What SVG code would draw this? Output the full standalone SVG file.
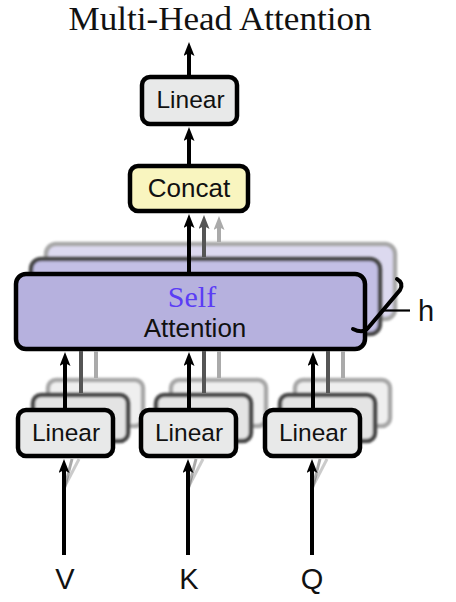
<svg xmlns="http://www.w3.org/2000/svg" width="456" height="602" viewBox="0 0 456 602">
<style>
.box{stroke-width:4.5}
.front{stroke:#000}
.mid{stroke:#4a4a4a}
.back{stroke:#a8a8a8}
.lin{fill:#e8e9e9}
.linmid{fill:#e4e4e4}
.linback{fill:#efefef}
.sa{fill:#b6b1de}
.samid{fill:#c3bfe5}
.saback{fill:#dcd9ef}
.sans{font-family:"Liberation Sans",Arial,sans-serif;text-anchor:middle;fill:#111}
.c-blk{stroke:#000;stroke-width:4;fill:none}
.c-dk{stroke:#555;stroke-width:4;fill:none}
.c-lt{stroke:#aaa;stroke-width:4;fill:none}
</style>
<defs>
<filter id="soft" x="-5%" y="-10%" width="110%" height="120%"><feGaussianBlur stdDeviation="0.9"/></filter>
<marker id="ah" viewBox="0 0 14 11" refX="3" refY="5.5" markerWidth="14" markerHeight="11" markerUnits="userSpaceOnUse" orient="auto"><path d="M0,0 L14,5.5 L0,11 L3,5.5 z" fill="#000"/></marker>
<marker id="ahd" viewBox="0 0 14 11" refX="3" refY="5.5" markerWidth="14" markerHeight="11" markerUnits="userSpaceOnUse" orient="auto"><path d="M0,0 L14,5.5 L0,11 L3,5.5 z" fill="#555"/></marker>
<marker id="ahl" viewBox="0 0 14 11" refX="3" refY="5.5" markerWidth="14" markerHeight="11" markerUnits="userSpaceOnUse" orient="auto"><path d="M0,0 L14,5.5 L0,11 L3,5.5 z" fill="#aaa"/></marker>
</defs>
<rect width="456" height="602" fill="#fff"/>
<text x="220" y="30" font-family="'Liberation Serif','Times New Roman',serif" font-size="33" text-anchor="middle" textLength="303" lengthAdjust="spacingAndGlyphs" fill="#111">Multi-Head Attention</text>

<!-- back copies -->
<g id="self-attention-back" filter="url(#soft)">
<rect class="box back saback" x="46" y="244" width="349" height="75" rx="10"/>
</g>
<g id="linear-v-back" filter="url(#soft)"><rect class="box back linback" x="48" y="380" width="95" height="46" rx="8"/></g>
<g id="linear-k-back" filter="url(#soft)"><rect class="box back linback" x="171" y="380" width="95" height="46" rx="8"/></g>
<g id="linear-q-back" filter="url(#soft)"><rect class="box back linback" x="295" y="380" width="95" height="46" rx="8"/></g>

<!-- middle copies -->
<g id="self-attention-mid" filter="url(#soft)">
<rect class="box mid samid" x="31" y="259" width="349" height="75" rx="10"/>
</g>
<g id="linear-v-mid" filter="url(#soft)"><rect class="box mid linmid" x="33" y="395" width="95" height="46" rx="8"/></g>
<g id="linear-k-mid" filter="url(#soft)"><rect class="box mid linmid" x="156" y="395" width="95" height="46" rx="8"/></g>
<g id="linear-q-mid" filter="url(#soft)"><rect class="box mid linmid" x="280" y="395" width="95" height="46" rx="8"/></g>

<!-- front nodes -->
<g id="linear-out">
<rect class="box front lin" x="142" y="77" width="95" height="47" rx="8"/>
<text class="sans" x="190.5" y="108" font-size="24.5">Linear</text>
</g>
<g id="concat">
<rect class="box front" fill="#f9f5bf" x="130" y="166" width="118" height="45" rx="8"/>
<text class="sans" x="189" y="197" font-size="26">Concat</text>
</g>
<g id="self-attention">
<rect class="box front sa" x="16" y="274" width="349" height="75" rx="10"/>
<text x="192" y="307" font-family="'Liberation Serif','Times New Roman',serif" font-size="30" text-anchor="middle" fill="#5b3df5">Self</text>
<text class="sans" x="195" y="337" font-size="26">Attention</text>
</g>
<g id="linear-v">
<rect class="box front lin" x="18" y="410" width="95" height="46" rx="8"/>
<text class="sans" x="66" y="441" font-size="24.5">Linear</text>
</g>
<g id="linear-k">
<rect class="box front lin" x="141" y="410" width="95" height="46" rx="8"/>
<text class="sans" x="189" y="441" font-size="24.5">Linear</text>
</g>
<g id="linear-q">
<rect class="box front lin" x="265" y="410" width="95" height="46" rx="8"/>
<text class="sans" x="313" y="441" font-size="24.5">Linear</text>
</g>

<g id="connectors">
<line class="c-blk" x1="189" y1="75" x2="189" y2="53" marker-end="url(#ah)"/>
<line class="c-blk" x1="189" y1="164" x2="189" y2="138" marker-end="url(#ah)"/>
<line class="c-lt" x1="219" y1="242" x2="219" y2="227" marker-end="url(#ahl)"/>
<line class="c-dk" x1="204" y1="257" x2="204" y2="226" marker-end="url(#ahd)"/>
<line class="c-blk" x1="189" y1="272" x2="189" y2="225" marker-end="url(#ah)"/>

<line class="c-lt" x1="96" y1="378" x2="96" y2="351"/>
<line class="c-dk" x1="81" y1="393" x2="81" y2="351"/>
<line class="c-blk" x1="65" y1="408" x2="65" y2="363" marker-end="url(#ah)"/>
<line class="c-lt" x1="219" y1="378" x2="219" y2="351"/>
<line class="c-dk" x1="204" y1="393" x2="204" y2="351"/>
<line class="c-blk" x1="189" y1="408" x2="189" y2="363" marker-end="url(#ah)"/>
<line class="c-lt" x1="343" y1="378" x2="343" y2="351"/>
<line class="c-dk" x1="328" y1="393" x2="328" y2="351"/>
<line class="c-blk" x1="313" y1="408" x2="313" y2="363" marker-end="url(#ah)"/>

<line stroke="#999" stroke-width="3" opacity="0.5" x1="64" y1="488" x2="79" y2="459"/>
<line stroke="#555" stroke-width="3" opacity="0.5" x1="64" y1="490" x2="72" y2="459"/>
<line class="c-blk" x1="64" y1="555" x2="64" y2="470" marker-end="url(#ah)"/>
<line stroke="#999" stroke-width="3" opacity="0.5" x1="188" y1="488" x2="203" y2="459"/>
<line stroke="#555" stroke-width="3" opacity="0.5" x1="188" y1="490" x2="196" y2="459"/>
<line class="c-blk" x1="188" y1="555" x2="188" y2="470" marker-end="url(#ah)"/>
<line stroke="#999" stroke-width="3" opacity="0.5" x1="312" y1="488" x2="327" y2="459"/>
<line stroke="#555" stroke-width="3" opacity="0.5" x1="312" y1="490" x2="320" y2="459"/>
<line class="c-blk" x1="312" y1="555" x2="312" y2="470" marker-end="url(#ah)"/>
</g>

<g id="heads-brace">
<path d="M397,279 Q404,283 400,290 L368,328 Q363,334 353,329" fill="none" stroke="#000" stroke-width="4" stroke-linecap="round"/>
<line x1="381" y1="310.5" x2="410" y2="310.5" stroke="#000" stroke-width="2.2"/>
<text class="sans" x="418" y="321" font-size="29" style="text-anchor:start">h</text>
</g>

<text class="sans" x="65" y="589" font-size="29">V</text>
<text class="sans" x="189" y="589" font-size="29">K</text>
<text class="sans" x="312" y="589" font-size="29">Q</text>
</svg>
